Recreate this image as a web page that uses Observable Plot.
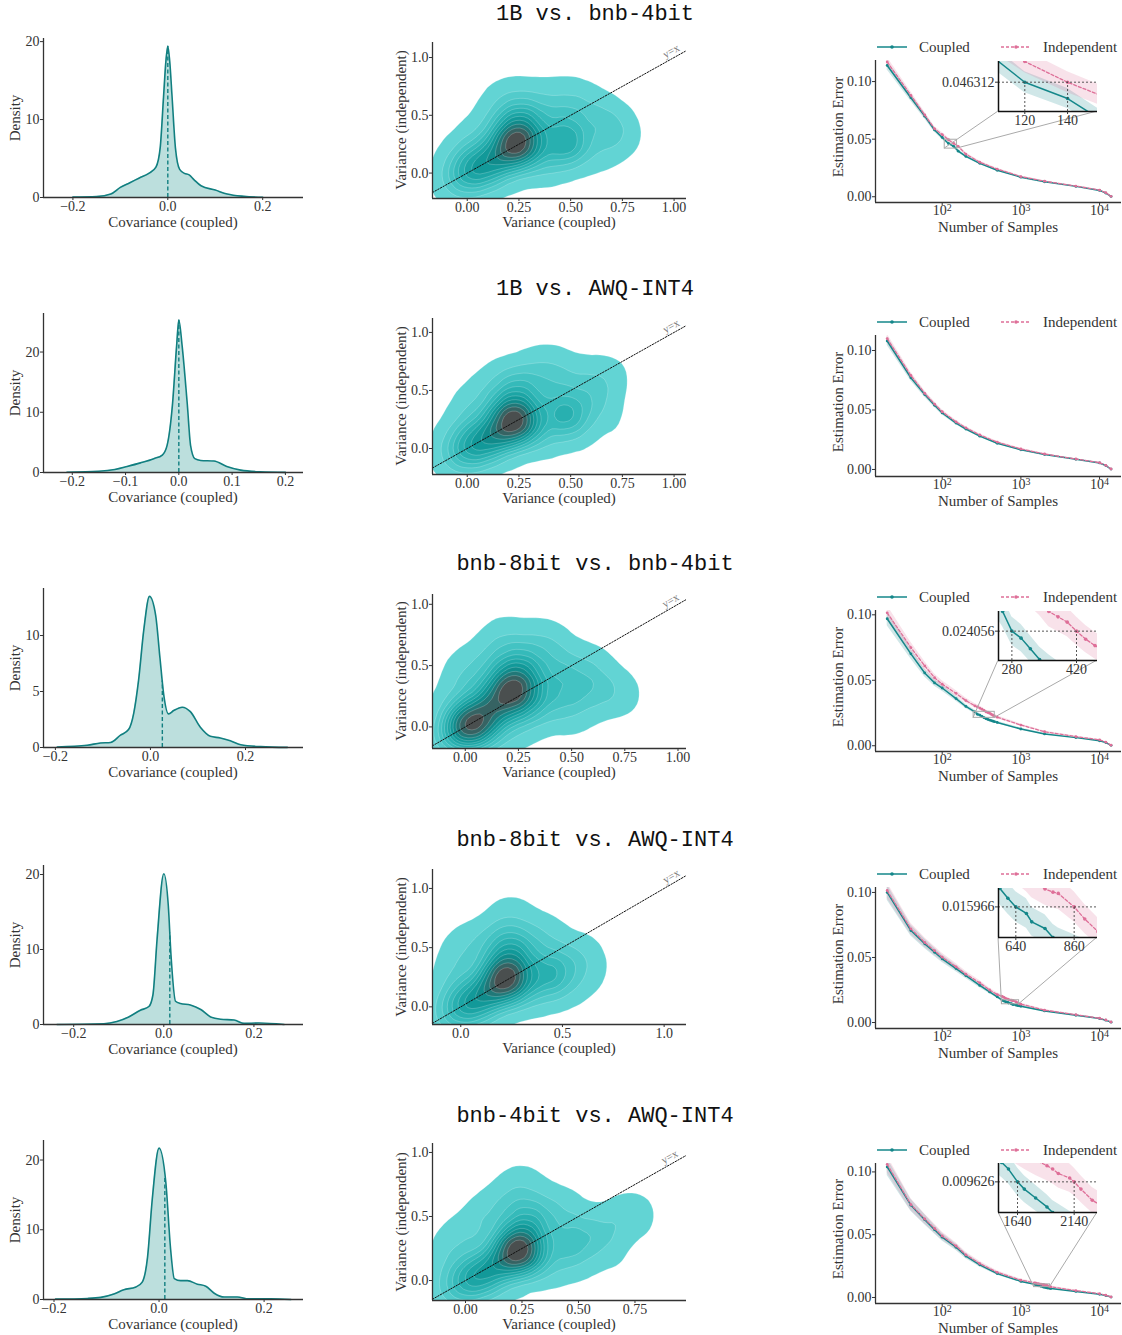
<!DOCTYPE html>
<html><head><meta charset="utf-8">
<script src="https://cdn.jsdelivr.net/npm/d3@7"></script>
<script src="https://cdn.jsdelivr.net/npm/@observablehq/plot@0.6"></script>
<style>
body{margin:0;background:#fff;}
#root{position:relative;width:1122px;height:1335px;overflow:hidden;background:#fff;}
</style></head><body><div id="root"></div>
<script>
// ---------------- DATA ----------------
const rowTitles = ["1B vs. bnb-4bit", "1B vs. AWQ-INT4", "bnb-8bit vs. bnb-4bit", "bnb-8bit vs. AWQ-INT4", "bnb-4bit vs. AWQ-INT4"];

// Column 1: KDE of covariance (coupled)
const covGrid1 = [-0.2,-0.15,-0.12,-0.1,-0.08,-0.06,-0.04,-0.025,-0.016,-0.009,-0.004,0,0.004,0.009,0.016,0.025,0.035,0.045,0.055,0.07,0.1,0.125,0.16,0.2];
const covDens1 = [0.05,0.12,0.45,1.3,1.9,2.5,3.1,3.9,6.4,12.9,17.5,19.4,17.5,12.9,6.4,3.6,3.1,2.9,2.3,1.5,0.95,0.45,0.15,0.03];
const covGrid2 = [-0.21,-0.15,-0.12,-0.097,-0.072,-0.047,-0.031,-0.022,-0.012,-0.004,0,0.006,0.016,0.022,0.03,0.041,0.066,0.09,0.116,0.153,0.2];
const covDens2 = [0.05,0.2,0.5,1.0,1.6,2.3,2.9,4.5,11.2,21.2,25.3,21.2,11.2,4.5,2.3,2.0,1.9,1.0,0.4,0.12,0.02];
const covGrid3 = [-0.196,-0.133,-0.105,-0.084,-0.063,-0.046,-0.035,-0.025,-0.014,-0.002,0.011,0.02,0.028,0.038,0.049,0.067,0.084,0.105,0.126,0.147,0.168,0.19,0.232,0.288];
const covDens3 = [0.05,0.2,0.4,0.45,1.1,1.6,3.1,6.0,10.5,13.5,11.8,8.0,4.7,3.0,3.3,3.6,3.2,1.8,1.0,0.85,0.6,0.25,0.08,0.01];
const covGrid4 = [-0.237,-0.133,-0.104,-0.078,-0.052,-0.033,-0.024,-0.015,0,0.01,0.016,0.026,0.037,0.059,0.082,0.104,0.126,0.156,0.178,0.211,0.267];
const covDens4 = [0.0,0.1,0.4,1.0,1.9,2.4,4.0,11.3,20.1,15.8,9.2,3.1,2.8,2.6,2.0,1.0,0.7,0.6,0.15,0.2,0.0];
const covGrid5 = [-0.197,-0.136,-0.111,-0.086,-0.067,-0.044,-0.032,-0.022,-0.013,0,0.013,0.022,0.029,0.041,0.054,0.073,0.089,0.105,0.124,0.149,0.171,0.213,0.251];
const covDens5 = [0.05,0.15,0.3,0.8,1.4,1.8,2.5,6.0,14.3,21.7,16.7,7.2,3.0,2.7,2.7,2.2,1.9,0.9,0.35,0.35,0.1,0.1,0.0];
const covMean = [0.0, 0.0, 0.025, 0.0133, 0.011];

// Column 2: (variance coupled, variance independent, weight) samples read from the density blobs
const varPts1 = [
 [0.24,0.25,12],[0.19,0.23,4],[0.30,0.26,4],[0.24,0.30,2],
 [0.26,0.47,5],[0.20,0.43,1.2],[0.32,0.45,1.2],
 [0.48,0.25,5],[0.42,0.30,1.5],[0.54,0.30,1.2],
 [0.42,0.47,1.5],[0.50,0.47,2],[0.66,0.46,2],[0.57,0.60,1],
 [0.70,0.30,1.2],[0.74,0.36,0.8],[0.62,0.18,1],
 [0.00,0.00,3],[0.06,0.06,3.5],[0.12,0.12,4],[0.00,-0.07,1.5],[-0.07,-0.07,1.2],[0.10,0.00,2],[0.20,0.08,2.5],[0.35,0.10,2],[0.46,0.12,1.2],
 [-0.05,0.10,1],[0.02,0.22,1.5],[0.10,0.35,1.5],[0.15,0.55,1],[0.22,0.66,1],[0.35,0.63,1.2],[0.48,0.66,0.9]
];
const varPts2 = [
 [0.23,0.24,12],[0.17,0.21,4],[0.29,0.25,4],[0.22,0.29,2],
 [0.24,0.50,4],[0.32,0.46,1.2],[0.15,0.40,1.5],
 [0.48,0.28,4.5],[0.42,0.33,1.5],[0.55,0.35,1.2],
 [0.45,0.50,1.5],[0.38,0.62,1.2],[0.52,0.62,1],[0.62,0.55,1.2],[0.68,0.62,0.8],[0.62,0.42,1],[0.65,0.28,0.8],
 [0.00,0.00,3],[0.06,0.06,3.5],[0.12,0.12,4],[0.00,-0.07,1.5],[-0.08,-0.06,1.2],[0.10,0.00,2],[0.20,0.08,2.5],[0.35,0.12,2],[0.50,0.15,1],
 [-0.05,0.10,1],[0.02,0.25,1.5],[0.05,0.42,1],[0.15,0.58,0.9],[0.28,0.66,1],[0.40,0.72,0.8]
];
const varPts3 = [
 [0.01,0.02,8],[-0.04,-0.03,3],[0.06,0.05,4],[0.03,-0.05,2.5],
 [0.22,0.27,9],[0.15,0.23,4],[0.30,0.28,4],[0.20,0.33,3],
 [0.10,0.12,4],[0.15,0.08,2.5],[0.28,0.15,2],[0.40,0.15,1.5],[0.52,0.12,1],
 [0.25,0.46,4],[0.18,0.45,2],[0.33,0.42,2],
 [0.45,0.30,2],[0.55,0.30,1.5],[0.65,0.28,1.2],[0.73,0.27,0.8],
 [0.05,0.30,2],[-0.05,0.20,1.2],[0.00,0.45,1],[0.10,0.55,1.2],[0.20,0.65,1.2],[0.30,0.60,1.5],[0.42,0.62,1.2],[0.45,0.45,1.5],[0.55,0.50,1],[0.62,0.45,0.8],[0.35,0.72,0.8],[0.18,0.74,0.6],
 [-0.09,-0.09,1],[0.12,-0.06,1.2],[0.25,0.00,1]
];
const varPts4 = [
 [0.23,0.24,12],[0.17,0.21,4],[0.29,0.26,3],[0.20,0.29,2],
 [0.25,0.48,5],[0.18,0.44,1.5],[0.32,0.46,1.5],
 [0.42,0.28,4.5],[0.50,0.33,1.5],[0.55,0.22,1],
 [0.00,0.00,3],[0.06,0.06,3.5],[0.12,0.12,4],[0.00,-0.07,1.5],[-0.08,-0.07,1.2],[0.10,0.00,2],[0.22,0.08,2],[0.35,0.12,1.5],[0.46,0.14,1],
 [-0.04,0.15,1],[0.00,0.32,1.5],[0.02,0.50,1],[0.12,0.55,1.2],[0.22,0.65,1.2],[0.25,0.76,0.9],[0.38,0.62,1.2],[0.45,0.50,1.2],[0.58,0.45,1],[0.62,0.32,0.8]
];
const varPts5 = [
 [0.24,0.23,12],[0.18,0.21,4],[0.30,0.24,3],[0.22,0.28,2],
 [0.27,0.45,4.5],[0.20,0.42,1.5],[0.35,0.42,1.5],
 [0.45,0.28,2.5],[0.52,0.35,1.5],[0.60,0.40,1.2],[0.70,0.48,1],[0.75,0.52,0.7],[0.62,0.25,1],
 [0.00,0.00,3],[0.06,0.06,3.5],[0.12,0.12,4],[0.00,-0.07,1.5],[-0.08,-0.07,1.2],[0.10,0.00,2],[0.22,0.08,2],[0.35,0.12,1.5],[0.48,0.15,1],
 [-0.06,0.15,1],[-0.04,0.30,1],[0.05,0.40,1.2],[0.12,0.55,1.2],[0.22,0.65,1.2],[0.25,0.74,0.8],[0.35,0.60,1.2],[0.45,0.52,1.2]
];

// Column 3: estimation error vs number of samples
const sampleN1 = [20,40,60,80,100,120,140,160,200,300,500,1000,2000,5000,10000,12000,14000];
const errCoupled1 = [0.114,0.086,0.070,0.058,0.0515,0.0463,0.0438,0.0396,0.035,0.029,0.023,0.017,0.013,0.009,0.0055,0.0032,0.0003];
const errIndep1 = [0.117,0.088,0.071,0.059,0.054,0.0495,0.0463,0.0437,0.037,0.030,0.024,0.0175,0.0135,0.0093,0.0058,0.0035,0.0004];
const sampleN2 = [20,40,60,80,100,150,200,300,500,1000,2000,5000,10000,12000,14000];
const errCoupled2 = [0.108,0.077,0.063,0.054,0.0475,0.039,0.034,0.028,0.022,0.0165,0.0125,0.0085,0.0055,0.0033,0.0003];
const errIndep2 = [0.110,0.079,0.064,0.055,0.0485,0.040,0.035,0.029,0.023,0.0172,0.013,0.0088,0.0057,0.0035,0.0004];
const sampleN3 = [20,40,60,80,100,150,200,260,280,300,320,340,360,380,400,420,440,460,500,1000,2000,5000,10000,12000,14000];
const errCoupled3 = [0.097,0.0702,0.0556,0.048,0.0441,0.036,0.030,0.0259,0.02406,0.0234,0.0224,0.0214,0.0207,0.0201,0.0196,0.0192,0.0188,0.0184,0.0178,0.0128,0.009,0.0062,0.0038,0.0024,0.0003];
const errIndep3 = [0.1015,0.075,0.061,0.052,0.047,0.040,0.0345,0.0305,0.0297,0.0288,0.0279,0.0270,0.0259,0.0254,0.0249,0.024056,0.0233,0.0227,0.0218,0.0158,0.0107,0.0070,0.0045,0.0028,0.0004];
const sampleN4 = [20,40,60,80,100,150,200,300,400,500,580,610,640,680,700,750,780,800,860,900,950,1000,2000,5000,10000,12000,14000];
const errCoupled4 = [0.100,0.0707,0.0605,0.054,0.049,0.0415,0.036,0.0285,0.0235,0.0198,0.01713,0.01651,0.015966,0.01555,0.01502,0.0146,0.01403,0.0138,0.0134,0.0131,0.0128,0.0125,0.0089,0.0056,0.003,0.0018,0.0003];
const errIndep4 = [0.1015,0.072,0.0615,0.0552,0.0502,0.0428,0.0372,0.0305,0.025,0.0215,0.0200,0.0193,0.0186,0.0180,0.0176,0.0171,0.0169,0.01682,0.015966,0.0152,0.0144,0.0141,0.0095,0.006,0.0033,0.002,0.0004];
const sampleN5 = [20,40,60,80,100,150,200,300,500,1000,1500,1560,1640,1700,1800,1900,1950,2000,2100,2140,2200,2300,2400,5000,10000,12000,14000];
const errCoupled5 = [0.104,0.0735,0.062,0.054,0.048,0.040,0.033,0.026,0.019,0.0128,0.0105,0.0102,0.009626,0.0093,0.0089,0.0085,0.00825,0.0081,0.0078,0.0077,0.0075,0.0073,0.0071,0.0048,0.0025,0.0015,0.0003];
const errIndep5 = [0.106,0.074,0.0625,0.055,0.049,0.041,0.034,0.027,0.020,0.0138,0.0117,0.0114,0.0111,0.0109,0.0106,0.01035,0.0102,0.0100,0.0098,0.009626,0.0093,0.0088,0.0085,0.0055,0.003,0.0018,0.0004];
const ciFraction = [0.035, 0.035, 0.055, 0.06, 0.065];   // half-width of the shaded band, relative to the error
const insetTarget = [0.046312, null, 0.024056, 0.015966, 0.009626];
const insetSamples = [[120,140], null, [280,420], [640,860], [1640,2140]];

// ---------------- LAYOUT / STYLE ----------------
const FONT = '"Liberation Serif","DejaVu Serif",serif';
const MONO = '"Liberation Mono","DejaVu Sans Mono",monospace';
const AX = "#333";
const TEAL = "#14878a", PINK = "#de6f98";
const KDE_FILL = "#bcdfdd", KDE_LINE = "#117f80";
const LEVELS = ["#62d4d4","#52cbcb","#43c3c3","#35baba","#28b0b0","#1ca5a5","#129999","#118b8b","#217878","#366363","#4a4f4f"];
const LEVEL_FRAC = [0.02,0.1,0.17,0.24,0.31,0.39,0.47,0.56,0.66,0.77,0.89];
const BANDWIDTH = 12;

const titleY = [15, 290, 565, 841, 1117];
const c1 = {x0:43, x1:303, top:[38,313,588,865,1140], h:159,
  xDom:[[-0.262,0.286],[-0.254,0.234],[-0.225,0.322],[-0.267,0.31],[-0.22,0.275]],
  yDom:[[0,20.4],[0,26.4],[0,14.2],[0,21.2],[0,22.8]],
  xTicks:[[-0.2,0,0.2],[-0.2,-0.1,0,0.1,0.2],[-0.2,0,0.2],[-0.2,0,0.2],[-0.2,0,0.2]],
  yTicks:[[0,10,20],[0,10,20],[0,5,10],[0,10,20],[0,10,20]]};
const c2 = {x0:432, x1:686, top:[42,318,594,869,1143], bottom:[198,474,748,1024,1300],
  xDom:[[-0.168,1.06],[-0.168,1.06],[-0.154,1.04],[-0.139,1.11],[-0.146,0.978]],
  yDom:[[-0.22,1.13],[-0.224,1.12],[-0.176,1.08],[-0.149,1.16],[-0.156,1.07]],
  xTicks:[[0,0.25,0.5,0.75,1],[0,0.25,0.5,0.75,1],[0,0.25,0.5,0.75,1],[0,0.5,1],[0,0.25,0.5,0.75]],
  xFmt:[".2f",".2f",".2f",".1f",".2f"]};
const c3 = {x0:875, x1:1121, top:[60,335,610,887,1163], bottom:[202,476,751,1028,1303],
  xDom:[14.2,19000],
  yDom:[[-0.005,0.1183],[-0.0059,0.1126],[-0.0044,0.1033],[-0.0046,0.1038],[-0.0048,0.1067]]};
const insetFrame = [[998,61,1097,111], null, [998,611,1097,660], [998,888,1097,937], [998,1163,1097,1212]];
const insetXDom = [[107.7,154], null, [251,465.5], [574.7,948], [1472,2346]];
const insetYDom = [[0.0418,0.0495], null, [0.0213,0.0259], [0.01403,0.01713], [0.00825,0.01045]];

const covGrids = [covGrid1,covGrid2,covGrid3,covGrid4,covGrid5];
const covDens = [covDens1,covDens2,covDens3,covDens4,covDens5];
const varPts = [varPts1,varPts2,varPts3,varPts4,varPts5];
const sampleNs = [sampleN1,sampleN2,sampleN3,sampleN4,sampleN5];
const errCs = [errCoupled1,errCoupled2,errCoupled3,errCoupled4,errCoupled5];
const errIs = [errIndep1,errIndep2,errIndep3,errIndep4,errIndep5];

const root = document.getElementById("root");
const NS = "http://www.w3.org/2000/svg";
const baseStyle = {fontFamily: FONT, fontSize: "14px", color: AX, background: "transparent", overflow: "visible"};

function place(node, left, top) {
  node.style.position = "absolute"; node.style.left = left + "px"; node.style.top = top + "px";
  root.appendChild(node); return node;
}
function label(txt, x, y, o = {}) {
  const d = document.createElement("div");
  d.textContent = txt;
  d.style.cssText = `position:absolute;left:${x}px;top:${y}px;transform:translate(-50%,-50%)${o.rotate ? " rotate(-90deg)" : ""};font-family:${o.font || FONT};font-size:${o.size || 15}px;color:${o.color || "#333"};white-space:nowrap;line-height:1;`;
  root.appendChild(d);
}
function dims(x0, y0, x1, y1, m) {
  return {width: x1 - x0 + m.l + m.r, height: y1 - y0 + m.t + m.b, marginLeft: m.l, marginRight: m.r, marginTop: m.t, marginBottom: m.b};
}
function interp(xs, ys, x) {
  const i = d3.bisectRight(xs, x);
  if (i <= 0) return ys[0];
  if (i >= xs.length) return ys[ys.length - 1];
  const t = (x - xs[i-1]) / (xs[i] - xs[i-1]);
  return ys[i-1] + t * (ys[i] - ys[i-1]);
}

// titles
rowTitles.forEach((t, r) => label(t, 595, titleY[r], {font: MONO, size: 22, color: "#111"}));

for (let r = 0; r < 5; r++) {
  // ---------- Column 1 ----------
  {
    const m = {l:40, r:8, t:6, b:30};
    const y0 = c1.top[r], y1 = y0 + c1.h;
    const rows = covGrids[r].map((x, i) => ({x, d: covDens[r][i]}));
    const meanH = interp(covGrids[r], covDens[r], covMean[r]);
    const p = Plot.plot({
      ...dims(c1.x0, y0, c1.x1, y1, m), style: baseStyle,
      x: {domain: c1.xDom[r]}, y: {domain: c1.yDom[r]},
      marks: [
        Plot.areaY(rows, {x: "x", y: "d", fill: KDE_FILL, curve: "monotone-x"}),
        Plot.line(rows, {x: "x", y: "d", stroke: KDE_LINE, strokeWidth: 1.6, curve: "monotone-x"}),
        Plot.ruleX([{x: covMean[r], h: meanH}], {x: "x", y1: 0, y2: "h", stroke: KDE_LINE, strokeWidth: 1.4, strokeDasharray: "4,2.5"}),
        Plot.ruleX([c1.xDom[r][0]], {stroke: AX, strokeWidth: 1.3}),
        Plot.ruleY([c1.yDom[r][0]], {stroke: AX, strokeWidth: 1.3}),
        Plot.axisX({ticks: c1.xTicks[r], tickFormat: d3.format(".1f"), tickSize: 3, tickPadding: 1, label: null}),
        Plot.axisY({ticks: c1.yTicks[r], tickFormat: d3.format("d"), tickSize: 3, tickPadding: 1, label: null})
      ]
    });
    place(p, c1.x0 - m.l, y0 - m.t);
    label("Covariance (coupled)", (c1.x0 + c1.x1) / 2, y1 + 25);
    label("Density", 15, (y0 + y1) / 2, {rotate: true});
  }

  // ---------- Column 2 ----------
  {
    const m = {l:36, r:8, t:6, b:30};
    const y0 = c2.top[r], y1 = c2.bottom[r];
    const xd = c2.xDom[r], yd = c2.yDom[r];
    const build = (thresholds, color) => Plot.plot({
      ...dims(c2.x0, y0, c2.x1, y1, m), style: baseStyle,
      x: {domain: xd}, y: {domain: yd}, color,
      marks: [
        Plot.density(varPts[r], {x: d => d[0], y: d => d[1], weight: d => d[2], bandwidth: BANDWIDTH, thresholds,
          fill: "density", stroke: "white", strokeOpacity: 0.35, strokeWidth: 0.6, clip: true}),
        Plot.line([xd[0], Math.min(xd[1], yd[1])].map(v => ({v})), {x: "v", y: "v", stroke: "#111", strokeWidth: 1, strokeDasharray: "1.5,1.5", clip: true}),
        Plot.text([{v: Math.min(xd[1], yd[1]) - 0.075}], {x: "v", y: "v", text: () => "y=x", dy: -8,
          rotate: -Math.atan(((y1 - y0) / (yd[1] - yd[0])) / ((c2.x1 - c2.x0) / (xd[1] - xd[0]))) * 180 / Math.PI,
          fill: "#777", fontSize: 11, fontFamily: FONT}),
        Plot.ruleX([xd[0]], {stroke: AX, strokeWidth: 1.3}),
        Plot.ruleY([yd[0]], {stroke: AX, strokeWidth: 1.3}),
        Plot.axisX({ticks: c2.xTicks[r], tickFormat: d3.format(c2.xFmt[r]), tickSize: 3, tickPadding: 1, label: null}),
        Plot.axisY({ticks: [0, 0.5, 1], tickFormat: d3.format(".1f"), tickSize: 3, tickPadding: 1, label: null})
      ]
    });
    const probe = build(40, {type: "linear"});
    const hi = probe.scale("color").domain[1];
    const T = LEVEL_FRAC.map(f => f * hi);
    const mids = T.slice(1).map((t, i) => (t + T[i]) / 2);
    const p = build(T, {type: "threshold", domain: mids, range: LEVELS});
    place(p, c2.x0 - m.l, y0 - m.t);
    label("Variance (coupled)", (c2.x0 + c2.x1) / 2, y1 + 24);
    label("Variance (independent)", 401, (y0 + y1) / 2, {rotate: true});
  }

  // ---------- Column 3 ----------
  {
    const m = {l:40, r:3, t:4, b:30};
    const y0 = c3.top[r], y1 = c3.bottom[r];
    const f = ciFraction[r];
    const rowsC = sampleNs[r].map((n, i) => ({n, e: errCs[r][i], lo: errCs[r][i] * (1 - f), hi: errCs[r][i] * (1 + f)}));
    const rowsI = sampleNs[r].map((n, i) => ({n, e: errIs[r][i], lo: errIs[r][i] * (1 - f), hi: errIs[r][i] * (1 + f)}));
    const seriesMarks = (clip, dotR) => [
      Plot.areaY(rowsC, {x: "n", y1: "lo", y2: "hi", fill: TEAL, fillOpacity: 0.2, clip}),
      Plot.areaY(rowsI, {x: "n", y1: "lo", y2: "hi", fill: PINK, fillOpacity: 0.2, clip}),
      Plot.line(rowsC, {x: "n", y: "e", stroke: TEAL, strokeWidth: 1.5, clip}),
      Plot.dot(rowsC, {x: "n", y: "e", r: dotR, fill: TEAL, clip}),
      Plot.line(rowsI, {x: "n", y: "e", stroke: PINK, strokeWidth: 1.3, strokeDasharray: "3,2", clip}),
      Plot.dot(rowsI, {x: "n", y: "e", r: dotR, fill: PINK, clip})
    ];
    const hasInset = insetTarget[r] !== null;
    const p = Plot.plot({
      ...dims(c3.x0, y0, c3.x1, y1, m), style: baseStyle,
      x: {type: "log", domain: c3.xDom}, y: {domain: c3.yDom[r]},
      marks: [
        ...seriesMarks(true, 1.4),
        ...(hasInset ? [Plot.rect([0], {x1: insetXDom[r][0], x2: insetXDom[r][1], y1: insetYDom[r][0], y2: insetYDom[r][1], fill: "none", stroke: "#aaa", strokeWidth: 1})] : []),
        Plot.ruleX([c3.xDom[0]], {stroke: AX, strokeWidth: 1.3}),
        Plot.ruleY([c3.yDom[r][0]], {stroke: AX, strokeWidth: 1.3}),
        Plot.axisX({ticks: [100, 1000, 10000], tickFormat: d => String(Math.round(Math.log10(d))), tickSize: 3, tickPadding: 0, label: null}),
        Plot.axisY({ticks: [0, 0.05, 0.1], tickFormat: d3.format(".2f"), tickSize: 3, tickPadding: 1, label: null})
      ]
    });
    p.querySelectorAll('[aria-label="x-axis tick label"] text').forEach(t => {
      const e = t.textContent; t.textContent = "10";
      const ts = document.createElementNS(NS, "tspan");
      ts.setAttribute("dy", "-0.45em"); ts.setAttribute("font-size", "10"); ts.textContent = e;
      t.appendChild(ts);
    });
    const left = c3.x0 - m.l, top = y0 - m.t;
    place(p, left, top);
    label("Number of Samples", (c3.x0 + c3.x1) / 2, y1 + 25);
    label("Estimation Error", 838, (y0 + y1) / 2 - 4, {rotate: true});

    // legend
    const ly = y0 - 13;
    const lg = document.createElementNS(NS, "svg");
    lg.setAttribute("width", 250); lg.setAttribute("height", 20);
    lg.innerHTML = `<line x1="2" x2="32" y1="10" y2="10" stroke="${TEAL}" stroke-width="1.5"/><circle cx="17" cy="10" r="1.8" fill="${TEAL}"/>
      <text x="44" y="15" font-family='${FONT}' font-size="15" fill="#333">Coupled</text>
      <line x1="126" x2="156" y1="10" y2="10" stroke="${PINK}" stroke-width="1.3" stroke-dasharray="3,2"/><circle cx="141" cy="10" r="1.8" fill="${PINK}"/>
      <text x="168" y="15" font-family='${FONT}' font-size="15" fill="#333">Independent</text>`;
    place(lg, 875, ly - 10);

    if (hasInset) {
      const [ix0, iy0, ix1, iy1] = insetFrame[r];
      const sx = p.scale("x"), sy = p.scale("y");
      const rx0 = left + sx.apply(insetXDom[r][0]), rx1 = left + sx.apply(insetXDom[r][1]);
      const ryb = top + sy.apply(insetYDom[r][0]);
      const ov = document.createElementNS(NS, "svg");
      ov.setAttribute("width", 1122); ov.setAttribute("height", 1335);
      ov.innerHTML = `<line x1="${rx0}" y1="${ryb}" x2="${ix0}" y2="${iy1}" stroke="#aaa" stroke-width="1"/>
        <line x1="${rx1}" y1="${ryb}" x2="${ix1}" y2="${iy1}" stroke="#aaa" stroke-width="1"/>`;
      ov.style.pointerEvents = "none";
      place(ov, 0, 0);

      const im = {l:62, r:1, t:1, b:20};
      const tgt = insetTarget[r];
      const ip = Plot.plot({
        ...dims(ix0, iy0, ix1, iy1, im), style: baseStyle,
        x: {domain: insetXDom[r]}, y: {domain: insetYDom[r]},
        marks: [
          Plot.frame({fill: "white", stroke: "none"}),
          ...seriesMarks(true, 1.8),
          Plot.ruleY([tgt], {stroke: "#444", strokeWidth: 0.9, strokeDasharray: "2,2"}),
          Plot.ruleX(insetSamples[r], {y1: insetYDom[r][0], y2: tgt, stroke: "#444", strokeWidth: 0.9, strokeDasharray: "2,2"}),
          Plot.ruleX([insetXDom[r][0]], {stroke: "#111", strokeWidth: 1.5}),
          Plot.ruleY([insetYDom[r][0]], {stroke: "#111", strokeWidth: 1.5}),
          Plot.axisX({ticks: insetSamples[r], tickFormat: d => String(d), tickSize: 3, tickPadding: 1, label: null}),
          Plot.axisY({ticks: [tgt], tickFormat: d => d.toFixed(6), tickSize: 3, tickPadding: 1, label: null})
        ]
      });
      place(ip, ix0 - im.l, iy0 - im.t);
    }
  }
}
</script></body></html>
